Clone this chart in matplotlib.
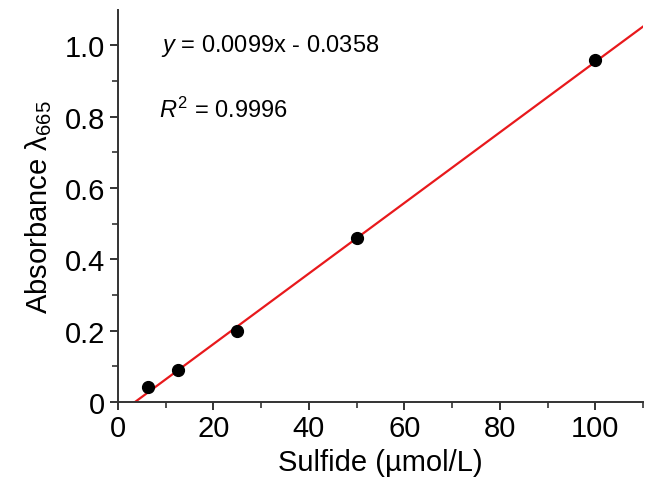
import numpy as np
import matplotlib
matplotlib.use("Agg")
import matplotlib.pyplot as plt
from matplotlib.ticker import FixedLocator

plt.rcParams["font.family"] = ["Liberation Sans", "DejaVu Sans"]
plt.rcParams["mathtext.fontset"] = "custom"
plt.rcParams["mathtext.rm"] = "Liberation Sans"
plt.rcParams["mathtext.it"] = "Liberation Sans:italic"

# data
sulfide = [6.25, 12.5, 25, 50, 100]
absorb = [0.042, 0.09, 0.199, 0.459, 0.958]
slope = 0.0099
intercept = -0.0358
x_ticks = [0, 20, 40, 60, 80, 100]
y_ticks = [0, 0.2, 0.4, 0.6, 0.8, 1.0]
y_tick_labels = ["0", "0.2", "0.4", "0.6", "0.8", "1.0"]

fig = plt.figure(figsize=(6.51, 4.89), dpi=100)
ax = fig.add_axes([0.181, 0.176, 0.807, 0.802])

x_fit = np.array([-intercept / slope, 110])
ax.plot(x_fit, slope * x_fit + intercept, color="#e8191c", linewidth=1.6, zorder=2)
ax.plot(sulfide, absorb, linestyle="none", marker="o", color="black", markersize=8.5, zorder=3)

ax.set_xlim(0, 110)
ax.set_ylim(0, 1.1)
ax.set_xticks(x_ticks)
ax.set_yticks(y_ticks)
ax.set_yticklabels(y_tick_labels)
ax.xaxis.set_minor_locator(FixedLocator([10, 30, 50, 70, 90, 110]))
ax.yaxis.set_minor_locator(FixedLocator([0.1, 0.3, 0.5, 0.7, 0.9]))

for s in ["top", "right"]:
    ax.spines[s].set_visible(False)
for s in ["left", "bottom"]:
    ax.spines[s].set_linewidth(1.4)
    ax.spines[s].set_color("#333333")
ax.tick_params(which="major", direction="out", length=6, width=1.4, color="#333333",
               labelsize=21, pad=3)
ax.tick_params(which="minor", direction="out", length=4, width=1.2, color="#333333")

ax.set_xlabel("Sulfide (µmol/L)", fontsize=21, labelpad=4)
ax.set_ylabel("Absorbance λ$_{665}$", fontsize=21, labelpad=8)

ax.text(9.0, 1.0, "$y$ = 0.0099x - 0.0358", fontsize=17, va="center")
ax.text(8.6, 0.82, "$R^2$ = 0.9996", fontsize=17, va="center")

fig.savefig("out.png", dpi=100)
